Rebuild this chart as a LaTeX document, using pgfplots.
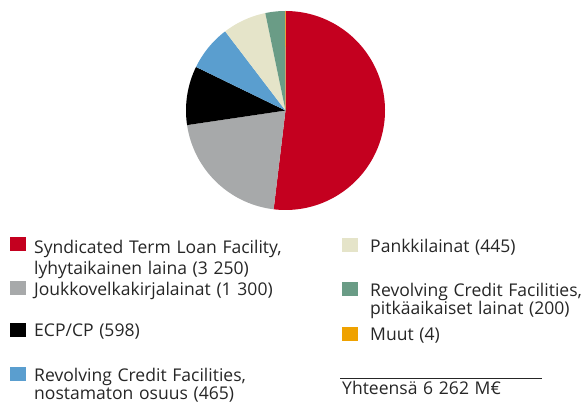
\documentclass[border=0pt]{standalone}
\usepackage{fontspec}
\setmainfont{Open Sans}[WordSpace=1.25]
\usepackage{pgfplots}
\pgfplotsset{compat=1.18}

\definecolor{cRed}{HTML}{C4001F}
\definecolor{cGray}{HTML}{A7A9AA}
\definecolor{cBlack}{HTML}{000000}
\definecolor{cBlue}{HTML}{5A9ECF}
\definecolor{cBeige}{HTML}{E5E4C9}
\definecolor{cGreen}{HTML}{6A9C86}
\definecolor{cOrange}{HTML}{EFA200}
\definecolor{txt}{HTML}{262626}

\newcommand{\total}{6262}
% slice: colour, cumulative start, cumulative end (M EUR), clockwise from 12 o'clock
\newcommand{\slice}[3]{%
  \pgfmathsetmacro\angA{90-360*(#3/\total)}%
  \pgfmathsetmacro\angB{90-360*(#2/\total)}%
  \addplot[fill=#1, draw=none, domain=\angA:\angB, samples=120]
    ({cos(x)},{sin(x)}) -- (axis cs:0,0) -- cycle;
}

\begin{document}
\begin{tikzpicture}[x=1bp,y=1bp]
\useasboundingbox (0,0) rectangle (587,403);
\begin{axis}[
    hide axis, scale only axis,
    width=199bp, height=199bp,
    xmin=-1, xmax=1, ymin=-1, ymax=1,
    at={(285.5bp,292.5bp)}, anchor=center,
    clip=false]
  \slice{cRed}{0}{3250}
  \slice{cGray}{3250}{4550}
  \slice{cBlack}{4550}{5148}
  \slice{cBlue}{5148}{5613}
  \slice{cBeige}{5613}{6058}
  \slice{cGreen}{6058}{6258}
  \slice{cOrange}{6258}{6262}
\end{axis}

\begin{scope}[every node/.style={anchor=base west, inner sep=0pt, text=txt, font=\fontsize{17.6}{20}\selectfont}]
  % left column
  \fill[cRed] (10,152) rectangle ++(16,14);
  \node at (34,150) {Syndicated Term Loan Facility,};
  \node at (34,129) {lyhytaikainen laina (3 250)};
  \fill[cGray] (10,108.5) rectangle ++(16,14);
  \node at (34,108) {Joukkovelkakirjalainat (1 300)};
  \fill[cBlack] (10,66) rectangle ++(16,14);
  \node at (34,66.5) {ECP/CP (598)};
  \fill[cBlue] (10,22) rectangle ++(16,14);
  \node at (34,21.5) {Revolving Credit Facilities,};
  \node at (34,4) {nostamaton osuus (465)};
  % right column
  \fill[cBeige] (342,151) rectangle ++(16,14);
  \node at (370,151) {Pankkilainat (445)};
  \fill[cGreen] (342,107) rectangle ++(16,14);
  \node at (370,107) {Revolving Credit Facilities,};
  \node at (370,89) {pitkäaikaiset lainat (200)};
  \fill[cOrange] (342,62) rectangle ++(16,14);
  \node at (370,63) {Muut (4)};
  \draw[txt, line width=0.8bp] (340,25) -- (542,25);
  \node at (342,9) {Yhteensä 6 262 M€};
\end{scope}
\end{tikzpicture}
\end{document}
